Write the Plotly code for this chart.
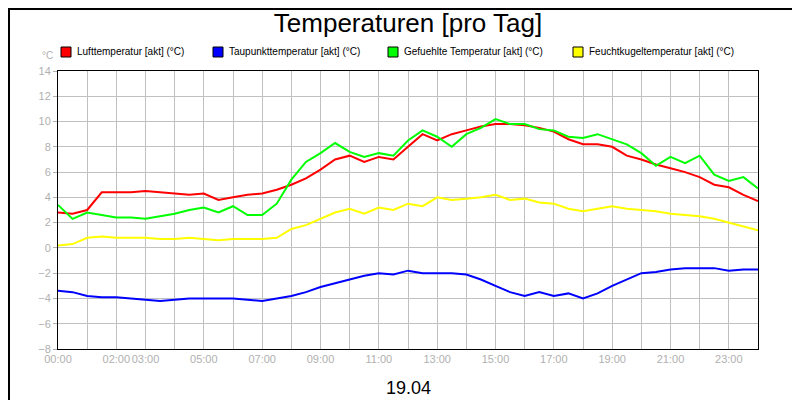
import plotly.graph_objects as go

hours = [i * 0.5 for i in range(49)]
luft = [2.8,2.7,3.0,4.4,4.4,4.4,4.5,4.4,4.3,4.2,4.3,3.8,4.0,4.2,4.3,4.6,5.0,5.5,6.2,7.0,7.3,6.8,7.2,7.0,8.0,9.0,8.5,9.0,9.3,9.6,9.8,9.8,9.7,9.5,9.2,8.6,8.2,8.2,8.0,7.3,7.0,6.6,6.3,6.0,5.6,5.0,4.8,4.2,3.7]
taupunkt = [-3.4,-3.5,-3.8,-3.9,-3.9,-4.0,-4.1,-4.2,-4.1,-4.0,-4.0,-4.0,-4.0,-4.1,-4.2,-4.0,-3.8,-3.5,-3.1,-2.8,-2.5,-2.2,-2.0,-2.1,-1.8,-2.0,-2.0,-2.0,-2.1,-2.5,-3.0,-3.5,-3.8,-3.5,-3.8,-3.6,-4.0,-3.6,-3.0,-2.5,-2.0,-1.9,-1.7,-1.6,-1.6,-1.6,-1.8,-1.7,-1.7]
gefuehlt = [3.4,2.3,2.8,2.6,2.4,2.4,2.3,2.5,2.7,3.0,3.2,2.8,3.3,2.6,2.6,3.5,5.4,6.8,7.5,8.3,7.6,7.2,7.5,7.3,8.5,9.3,8.8,8.0,9.0,9.5,10.2,9.8,9.8,9.4,9.3,8.8,8.7,9.0,8.6,8.2,7.5,6.5,7.2,6.7,7.3,5.8,5.3,5.6,4.7]
feucht = [0.2,0.3,0.8,0.9,0.8,0.8,0.8,0.7,0.7,0.8,0.7,0.6,0.7,0.7,0.7,0.8,1.5,1.8,2.3,2.8,3.1,2.7,3.2,3.0,3.5,3.3,4.0,3.8,3.9,4.0,4.2,3.8,3.9,3.6,3.5,3.1,2.9,3.1,3.3,3.1,3.0,2.9,2.7,2.6,2.5,2.3,2.0,1.7,1.4]

tick_vals = [0,2,3,5,7,9,11,13,15,17,19,21,23]
tick_text = ["%02d:00" % h for h in tick_vals]

series = [("Lufttemperatur [akt] (°C)", luft, "#ff0000"),
          ("Taupunkttemperatur [akt] (°C)", taupunkt, "#0000ff"),
          ("Gefuehlte Temperatur [akt] (°C)", gefuehlt, "#00ff00"),
          ("Feuchtkugeltemperatur [akt] (°C)", feucht, "#ffff00")]
legend_px = [58, 210, 385, 570]

W, H = 800, 400
L, R, T, B = 50, 50, 63, 59
pw, ph = W - L - R, H - T - B

fig = go.Figure()
for name, ys, c in series:
    fig.add_trace(go.Scatter(x=hours, y=ys, name=name, mode="lines",
                             line=dict(color=c, width=2)))

fig.update_layout(
    width=W, height=H, paper_bgcolor="white", plot_bgcolor="white",
    margin=dict(l=L, r=R, t=T, b=B, autoexpand=False),
    font=dict(family="Arial, Liberation Sans", size=11, color="black"),
    title=dict(text="Temperaturen [pro Tag]", x=0.5, xanchor="center", y=0.985, yanchor="top",
               font=dict(size=26, color="black")),
    showlegend=False,
)
fig.update_xaxes(range=[0, 24], tickvals=tick_vals, ticktext=tick_text, tickangle=0,
                 showgrid=True, gridcolor="#c0c0c0",
                 showline=True, linecolor="black", mirror=True, ticks="",
                 tickfont=dict(color="#b0b0b0", size=11), zeroline=False,
                 minor=dict(showgrid=True, gridcolor="#c0c0c0", dtick=1, tick0=0))
fig.update_yaxes(range=[-8, 14], dtick=2, showgrid=True, gridcolor="#c0c0c0",
                 showline=True, linecolor="black", mirror=True, ticks="outside",
                 ticklen=4, tickcolor="#b0b0b0",
                 tickfont=dict(color="#b0b0b0", size=11), zeroline=False)

def px_x(p): return (p - L) / pw
def px_y(p): return (H - B - p) / ph

for (name, ys, c), px in zip(series, legend_px):
    fig.add_shape(type="rect", xref="paper", yref="paper",
                  x0=px_x(px - 5), x1=px_x(px + 5), y0=px_y(49), y1=px_y(39),
                  fillcolor=c, line=dict(color="black", width=1))
    fig.add_annotation(text=name, xref="paper", yref="paper", x=px_x(px + 9), y=px_y(44),
                       xanchor="left", yanchor="middle", showarrow=False,
                       font=dict(size=10, color="black"))

fig.add_annotation(text="°C", xref="paper", yref="paper", x=px_x(47), y=px_y(48),
                   xanchor="right", yanchor="middle", showarrow=False,
                   font=dict(color="#b0b0b0", size=10))
fig.add_annotation(text="19.04", xref="paper", yref="paper", x=0.5, y=px_y(380),
                   xanchor="center", yanchor="middle", showarrow=False,
                   font=dict(color="black", size=18))
fig.add_shape(type="rect", xref="paper", yref="paper", x0=px_x(1), x1=px_x(799),
              y0=px_y(399), y1=px_y(1), line=dict(color="black", width=2))
fig.write_html("out.html")
